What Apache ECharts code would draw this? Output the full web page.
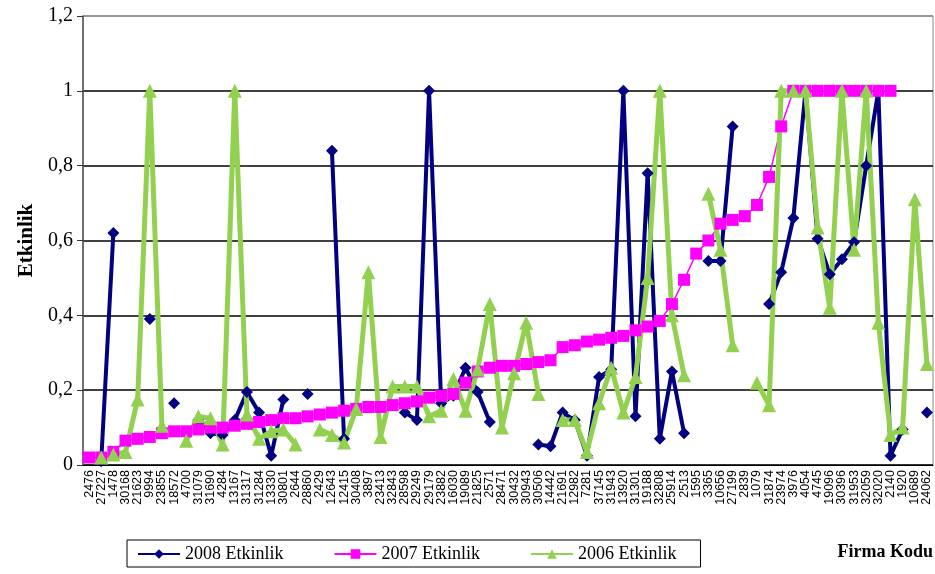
<!DOCTYPE html>
<html>
<head>
<meta charset="utf-8">
<script src="https://cdn.jsdelivr.net/npm/echarts@6/dist/echarts.min.js"></script>
<style>
  html, body { margin: 0; padding: 0; background: #fff; }
  #box { width: 935px; height: 574px; }
</style>
</head>
<body>
<div id="box"></div>
<script>
var firms = ['2476', '27227', '1478', '30168', '21623', '9994', '23855', '18572', '4700', '31079',
  '31690', '4284', '13167', '31317', '31284', '13330', '30801', '2644', '28860', '2429',
  '12643', '12415', '30408', '3897', '23413', '32843', '28598', '29249', '29179', '23882',
  '16030', '19089', '21825', '2571', '28471', '30432', '30943', '30506', '14442', '21691',
  '12982', '7281', '37145', '31943', '13920', '31301', '19188', '32808', '25914', '2513',
  '1595', '3365', '10656', '27199', '2839', '1079', '31874', '23974', '3976', '4054',
  '4745', '19096', '30396', '31953', '32059', '32020', '2140', '1920', '10689', '24062'];

var eff2008 = [null, 0.01, 0.62, null, null, 0.39, null, 0.165, null, 0.12,
  0.085, 0.08, 0.12, 0.195, 0.14, 0.025, 0.175, null, 0.19, null,
  0.84, 0.07, null, null, null, null, 0.14, 0.12, 1, 0.165,
  0.185, 0.26, 0.195, 0.115, null, null, null, 0.055, 0.05, 0.14,
  0.12, 0.025, 0.235, 0.255, 1, 0.13, 0.78, 0.07, 0.25, 0.085,
  null, 0.545, 0.545, 0.905, null, null, 0.43, 0.515, 0.66, 1,
  0.605, 0.51, 0.55, 0.595, 0.8, 1, 0.025, 0.095, null, 0.14];

var eff2007 = [0.02, 0.02, 0.035, 0.065, 0.07, 0.075, 0.085, 0.09, 0.09, 0.095,
  0.1, 0.1, 0.105, 0.11, 0.115, 0.12, 0.125, 0.125, 0.13, 0.135,
  0.14, 0.145, 0.15, 0.155, 0.155, 0.16, 0.165, 0.17, 0.18, 0.185,
  0.19, 0.22, 0.25, 0.26, 0.265, 0.265, 0.27, 0.275, 0.28, 0.315,
  0.32, 0.33, 0.335, 0.34, 0.345, 0.36, 0.37, 0.385, 0.43, 0.495,
  0.565, 0.6, 0.645, 0.655, 0.665, 0.695, 0.77, 0.905, 1, 1,
  1, 1, 1, 1, 1, 1, 1, null, null, null];

var eff2006 = [null, 0.02, 0.028, 0.035, 0.175, 1, 0.105, null, 0.065, 0.13,
  0.125, 0.055, 1, 0.135, 0.07, 0.09, 0.095, 0.055, null, 0.095,
  0.08, 0.06, 0.15, 0.515, 0.075, 0.21, 0.21, 0.21, 0.13, 0.145,
  0.23, 0.145, 0.255, 0.43, 0.1, 0.245, 0.38, 0.19, null, 0.12,
  0.12, 0.035, 0.165, 0.26, 0.14, 0.235, 0.5, 1, 0.4, 0.24,
  null, 0.725, 0.575, 0.32, null, 0.22, 0.16, 1, 1, 1,
  0.635, 0.42, 1, 0.575, 1, 0.38, 0.08, 0.1, 0.71, 0.27];

var serif = 'Liberation Serif';
var chart = echarts.init(document.getElementById('box'));

var option = {
  animation: false,
  backgroundColor: '#fff',
  title: {
    text: 'Firma Kodu',
    right: 2,
    top: 543,
    padding: 0,
    textStyle: { fontFamily: serif, fontWeight: 'bold', fontSize: 18, color: '#000' }
  },
  legend: {
    data: ['2008 Etkinlik', '2007 Etkinlik', '2006 Etkinlik'],
    left: 127,
    top: 540,
    padding: [5, 24, 4, 10],
    itemGap: 50,
    itemWidth: 42,
    itemHeight: 12,
    borderColor: '#000',
    borderWidth: 1,
    textStyle: { fontFamily: serif, fontSize: 18, color: '#000' }
  },
  grid: {
    left: 83,
    right: 2,
    top: 16,
    bottom: 109,
    show: true,
    borderColor: '#888',
    borderWidth: 1
  },
  xAxis: {
    type: 'category',
    data: firms,
    boundaryGap: true,
    axisLine: { lineStyle: { color: '#000', width: 1 } },
    axisTick: { length: 6, lineStyle: { color: '#000' } },
    axisLabel: {
      interval: 0,
      rotate: 90,
      margin: 5,
      fontFamily: 'Liberation Sans',
      fontSize: 12.5,
      color: '#000'
    }
  },
  yAxis: {
    type: 'value',
    min: 0,
    max: 1.2,
    interval: 0.2,
    name: 'Etkinlik',
    nameLocation: 'middle',
    nameGap: 46,
    nameTextStyle: { fontFamily: serif, fontWeight: 'bold', fontSize: 21, color: '#000' },
    axisLine: { show: true, lineStyle: { color: '#555', width: 1.5 } },
    axisTick: { show: true, length: 6, lineStyle: { color: '#333' } },
    axisLabel: {
      margin: 10,
      fontFamily: serif,
      fontSize: 20,
      color: '#000',
      formatter: function (v) { return String(+v.toFixed(1)).replace('.', ','); }
    },
    splitLine: {
      lineStyle: { color: ['#000', '#000', '#000', '#000', '#000', '#000', '#888'], width: 1.5 }
    }
  },
  series: [
    {
      name: '2008 Etkinlik',
      type: 'line',
      data: eff2008,
      symbol: 'diamond',
      symbolSize: 12,
      color: '#000080',
      lineStyle: { width: 4 }
    },
    {
      name: '2007 Etkinlik',
      type: 'line',
      data: eff2007,
      symbol: 'rect',
      symbolSize: 12,
      color: '#ff00ff',
      lineStyle: { width: 1.5 }
    },
    {
      name: '2006 Etkinlik',
      type: 'line',
      data: eff2006,
      symbol: 'triangle',
      symbolSize: 14,
      color: '#92d050',
      lineStyle: { width: 5 }
    }
  ]
};

chart.setOption(option);
</script>
</body>
</html>
